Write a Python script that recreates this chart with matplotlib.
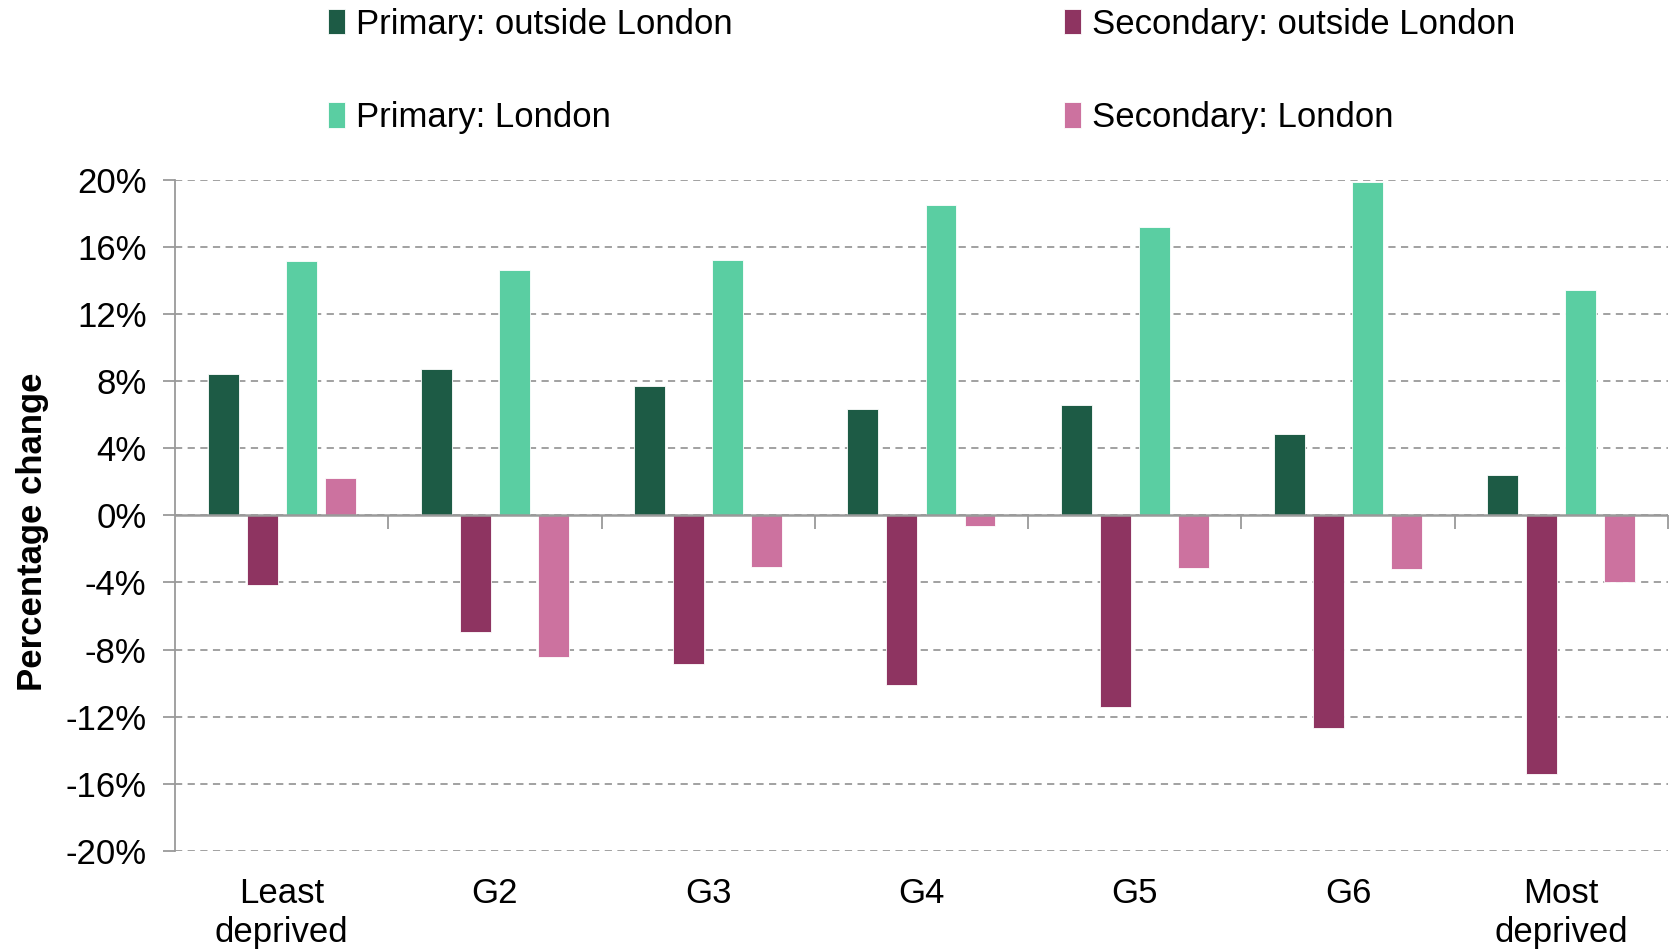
import matplotlib
matplotlib.use("Agg")
import matplotlib.pyplot as plt
import numpy as np

categories = ["Least\ndeprived", "G2", "G3", "G4", "G5", "G6", "Most\ndeprived"]
series_names = ["Primary: outside London", "Secondary: outside London",
                "Primary: London", "Secondary: London"]
primary_outside = [8.4, 8.75, 7.73, 6.33, 6.58, 4.87, 2.42]
secondary_outside = [-4.13, -6.95, -8.87, -10.1, -11.45, -12.69, -15.4]
primary_london = [15.19, 14.63, 15.2, 18.5, 17.19, 19.9, 13.42]
secondary_london = [2.22, -8.44, -3.08, -0.63, -3.12, -3.2, -4.0]
yticks = [-20, -16, -12, -8, -4, 0, 4, 8, 12, 16, 20]

colors = ["#1d5b45", "#8e3461", "#5acea2", "#cc729f"]
series = [primary_outside, secondary_outside, primary_london, secondary_london]

plt.rcParams['font.family'] = ['Liberation Sans', 'DejaVu Sans']
FS = 25

fig = plt.figure(figsize=(16.78, 9.5), dpi=100)
ax = fig.add_axes([0.1043, 0.1044, 0.994 - 0.1043, 0.8107 - 0.1044])

x = np.arange(len(categories))
step = 0.183
width = 0.145
handles = {}
for i, (vals, c, name) in enumerate(zip(series, colors, series_names)):
    b = ax.bar(x + (i - 1.5) * step, vals, width, color=c, edgecolor='white',
               linewidth=0.6, label=name, zorder=3)
    handles[name] = b

ax.set_xlim(-0.5, len(categories) - 0.5)
ax.set_ylim(-20, 20)
ax.set_yticks(yticks)
ax.set_yticklabels([f"{v}%" for v in yticks])
ax.yaxis.grid(True, linestyle=(0, (4, 3)), color='#9a9a9a', linewidth=1.3, zorder=0)
ax.set_axisbelow(True)

for s in ['top', 'right', 'bottom']:
    ax.spines[s].set_visible(False)
ax.spines['left'].set_color('#9a9a9a')
ax.spines['left'].set_linewidth(1.3)
ax.tick_params(axis='y', length=9, width=1.3, color='#9a9a9a', labelsize=FS, pad=11.5)
ax.set_xticks(x)
ax.set_xticklabels(categories)
ax.tick_params(axis='x', length=0, labelsize=FS, pad=19)
for lab in ax.get_xticklabels():
    lab.set_linespacing(1.22)

# zero axis line with category boundary ticks
ax.axhline(0, color='#9a9a9a', linewidth=1.8, zorder=4)
sec = ax.secondary_xaxis(0.5)
sec.set_xticks(np.arange(0.5, len(categories), 1.0))
sec.set_xticklabels([])
sec.tick_params(axis='x', length=10, width=1.3, color='#9a9a9a', direction='in')
for s in sec.spines.values():
    s.set_visible(False)

ax.set_ylabel("Percentage change", fontsize=FS, fontweight='bold')
ax.yaxis.set_label_coords(-0.0847, 0.475)

order = [series_names[0], series_names[2], series_names[1], series_names[3]]
fig.legend([handles[n] for n in order], order, loc='upper left',
           bbox_to_anchor=(0.1955, 0.992), ncol=2, frameon=False, fontsize=FS,
           handlelength=0.5, handleheight=0.75, handletextpad=0.3,
           columnspacing=9.55, labelspacing=1.74, borderpad=0.0, borderaxespad=0.0)

fig.savefig("out.png", dpi=100)
